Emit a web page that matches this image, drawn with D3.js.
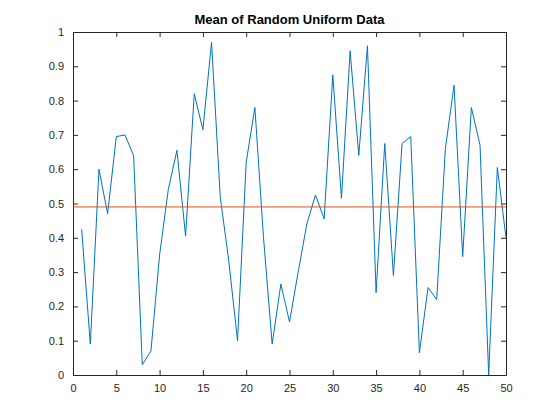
<!DOCTYPE html>
<html><head><meta charset="utf-8">
<script src="https://cdn.jsdelivr.net/npm/d3@7"></script>
<style>body{margin:0;background:#fff}text{font-family:"Liberation Sans",Arial,sans-serif}</style>
</head><body>
<svg width="560" height="420"></svg>
<script>
// values
var xs = d3.range(1, 51);
var ys = [0.425,0.09,0.60,0.47,0.695,0.70,0.64,0.03,0.07,0.35,
          0.54,0.655,0.405,0.82,0.715,0.97,0.52,0.33,0.10,0.62,
          0.78,0.40,0.09,0.265,0.155,0.30,0.44,0.525,0.455,0.875,
          0.515,0.945,0.64,0.96,0.24,0.675,0.29,0.675,0.695,0.065,
          0.255,0.22,0.66,0.845,0.345,0.78,0.67,0.0,0.605,0.40];
var meanVal = [0.49];
var xTicks = [0,5,10,15,20,25,30,35,40,45,50];
var yTicks = [0,0.1,0.2,0.3,0.4,0.5,0.6,0.7,0.8,0.9,1];

var svg = d3.select("svg"),
    margin = {top: 32, right: 54, bottom: 45, left: 73},
    width = 560 - margin.left - margin.right,
    height = 420 - margin.top - margin.bottom;

var x = d3.scaleLinear().domain([0, 50]).range([0, width]),
    y = d3.scaleLinear().domain([0, 1]).range([height, 0]);

var g = svg.append("g").attr("transform", "translate(" + margin.left + "," + margin.top + ")");

// axes with inward ticks, box on all sides
function style(a) {
  a.select(".domain").attr("stroke", "#262626");
  a.selectAll(".tick line").attr("stroke", "#262626");
  a.selectAll("text").attr("fill", "#262626").attr("font-size", 11);
}
g.append("g").attr("transform", "translate(0," + height + ")")
  .call(d3.axisBottom(x).tickValues(xTicks).tickSizeInner(-5).tickSizeOuter(0).tickPadding(9)).call(style);
g.append("g")
  .call(d3.axisLeft(y).tickValues(yTicks).tickFormat(d3.format("")).tickSizeInner(-5).tickSizeOuter(0).tickPadding(9)).call(style);
g.append("g")
  .call(d3.axisTop(x).tickValues(xTicks).tickSizeInner(-5).tickSizeOuter(0).tickFormat("")).call(style);
g.append("g").attr("transform", "translate(" + width + ",0)")
  .call(d3.axisRight(y).tickValues(yTicks).tickSizeInner(-5).tickSizeOuter(0).tickFormat("")).call(style);

// data line
g.append("path")
  .datum(xs.map(function(d, i) { return [d, ys[i]]; }))
  .attr("fill", "none").attr("stroke", "#0072BD").attr("stroke-width", 1)
  .attr("d", d3.line().x(function(d) { return x(d[0]); }).y(function(d) { return y(d[1]); }));

// mean line
g.selectAll(".mean").data(meanVal).enter().append("line")
  .attr("class", "mean")
  .attr("x1", x(0)).attr("x2", x(50))
  .attr("y1", function(d) { return y(d); }).attr("y2", function(d) { return y(d); })
  .attr("stroke", "#D95319").attr("stroke-width", 1);

svg.append("text")
  .attr("x", margin.left + width / 2).attr("y", 24)
  .attr("text-anchor", "middle").attr("font-size", 13).attr("font-weight", "bold")
  .attr("fill", "#000")
  .text("Mean of Random Uniform Data");
</script>
</body></html>
